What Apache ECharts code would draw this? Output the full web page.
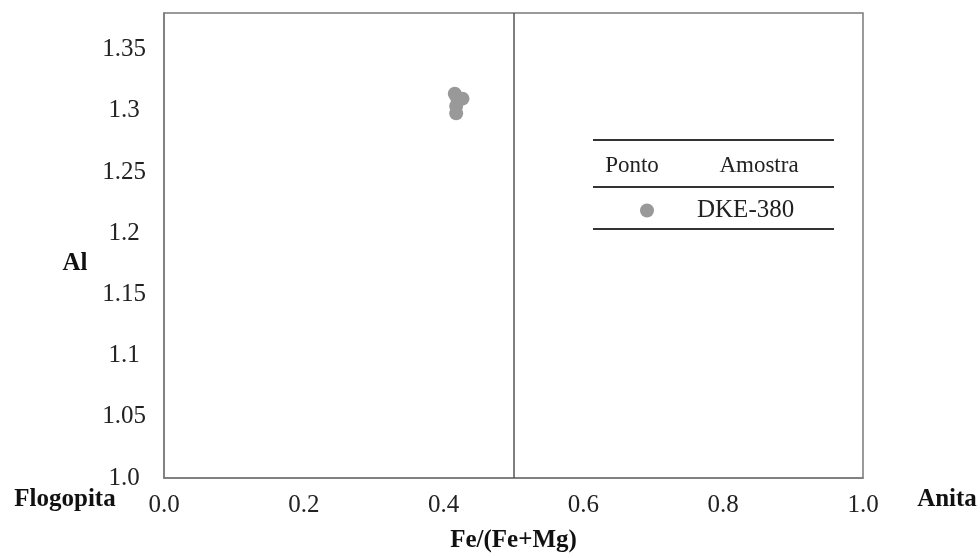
<!DOCTYPE html>
<html>
<head>
<meta charset="utf-8">
<script src="https://cdn.jsdelivr.net/npm/echarts@6/dist/echarts.min.js"></script>
<style>
html,body{margin:0;padding:0;background:#fff;}
#chart{width:980px;height:558px;}
</style>
</head>
<body>
<div id="chart"></div>
<script>
// ---- data ----
var seriesName = 'DKE-380';
var feRatio = [0.416, 0.419, 0.427, 0.418, 0.418];
var alValues = [1.314, 1.311, 1.310, 1.304, 1.298];
var xTickLabels = ['0.0', '0.2', '0.4', '0.6', '0.8', '1.0'];
var yTickLabels = ['1.0', '1.05', '1.1', '1.15', '1.2', '1.25', '1.3', '1.35'];
var dividerX = 0.5;
var xAxisTitle = 'Fe/(Fe+Mg)';
var yAxisTitle = 'Al';
var leftEndLabel = 'Flogopita';
var rightEndLabel = 'Anita';
var legendHeaders = ['Ponto', 'Amostra'];

var points = feRatio.map(function (x, i) { return [x, alValues[i]]; });

var serif = '"Liberation Serif", "Times New Roman", serif';
var chart = echarts.init(document.getElementById('chart'));

chart.setOption({
  animation: false,
  backgroundColor: '#fff',
  grid: { left: 164, right: 117, top: 13, bottom: 80, show: true, borderColor: '#7a7a7a', borderWidth: 1.5 },
  xAxis: {
    type: 'value', min: 0, max: 1, interval: 0.2,
    name: xAxisTitle, nameLocation: 'middle', nameGap: 50,
    nameTextStyle: { fontFamily: serif, fontSize: 25, fontWeight: 'bold', color: '#111' },
    axisLine: { show: true, lineStyle: { color: '#7a7a7a', width: 1.5 } },
    axisTick: { show: false }, splitLine: { show: false },
    axisLabel: {
      fontFamily: serif, fontSize: 25, color: '#222', margin: 15,
      formatter: function (v) { var i = Math.round(v / 0.2); return xTickLabels[i] || ''; }
    }
  },
  yAxis: {
    type: 'value', min: 1.0, max: 1.38, interval: 0.05,
    axisLine: { show: true, lineStyle: { color: '#7a7a7a', width: 1.5 } },
    axisTick: { show: false }, splitLine: { show: false },
    axisLabel: {
      fontFamily: serif, fontSize: 25, color: '#222', margin: 40, align: 'center',
      showMaxLabel: false,
      formatter: function (v) {
        var i = Math.round((v - 1.0) / 0.05);
        if (Math.abs(v - (1.0 + i * 0.05)) > 1e-6) return '';
        return yTickLabels[i] || '';
      }
    }
  },
  legend: {
    data: [seriesName], left: 635, top: 193, icon: 'circle', itemWidth: 14, itemHeight: 14,
    textStyle: { fontFamily: serif, fontSize: 25, color: '#222', padding: [0, 0, 0, 38] }
  },
  graphic: [
    { type: 'line', shape: { x1: 593, y1: 140, x2: 834, y2: 140 }, style: { stroke: '#333', lineWidth: 2 } },
    { type: 'line', shape: { x1: 593, y1: 187, x2: 834, y2: 187 }, style: { stroke: '#333', lineWidth: 2 } },
    { type: 'line', shape: { x1: 593, y1: 229, x2: 834, y2: 229 }, style: { stroke: '#333', lineWidth: 2 } },
    { type: 'text', x: 632, y: 166, style: { text: legendHeaders[0], font: '23px ' + serif, fill: '#222', textAlign: 'center', textVerticalAlign: 'middle' } },
    { type: 'text', x: 759, y: 166, style: { text: legendHeaders[1], font: '23px ' + serif, fill: '#222', textAlign: 'center', textVerticalAlign: 'middle' } },
    { type: 'text', x: 75, y: 264, style: { text: yAxisTitle, font: 'bold 25px ' + serif, fill: '#111', textAlign: 'center', textVerticalAlign: 'middle' } },
    { type: 'text', x: 65, y: 500, style: { text: leftEndLabel, font: 'bold 25px ' + serif, fill: '#111', textAlign: 'center', textVerticalAlign: 'middle' } },
    { type: 'text', x: 947, y: 500, style: { text: rightEndLabel, font: 'bold 25px ' + serif, fill: '#111', textAlign: 'center', textVerticalAlign: 'middle' } }
  ],
  series: [{
    name: seriesName, type: 'scatter', data: points, symbolSize: 14,
    itemStyle: { color: '#999999', opacity: 1 },
    markLine: {
      silent: true, symbol: 'none', label: { show: false },
      lineStyle: { color: '#555', width: 1.5, type: 'solid' },
      data: [{ xAxis: dividerX }]
    }
  }]
});
</script>
</body>
</html>
